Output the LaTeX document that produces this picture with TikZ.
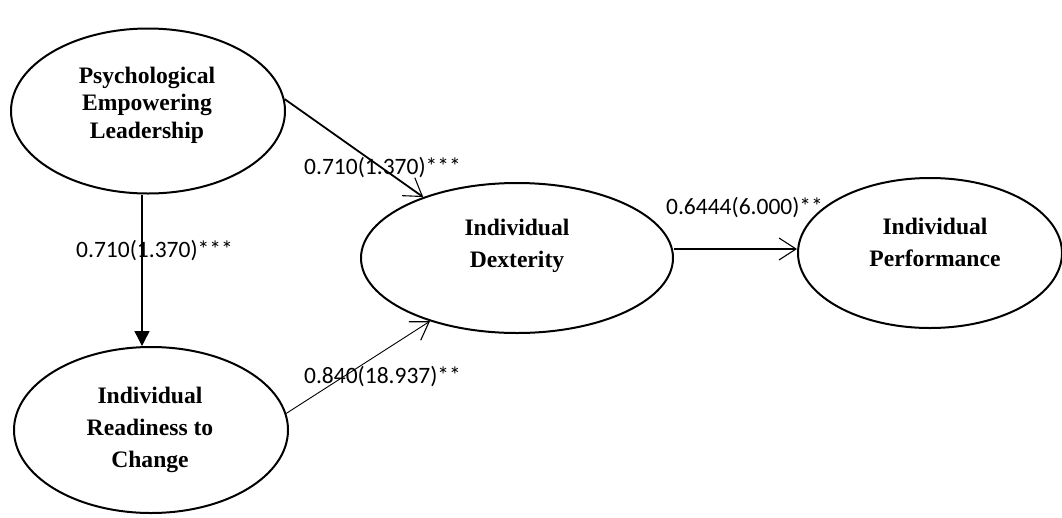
\documentclass[tikz,border=0pt]{standalone}
\usepackage{fontspec}
\setmainfont{Liberation Serif}
\newfontfamily\labfont{Carlito}
\usetikzlibrary{shapes.geometric,arrows.meta}
\begin{document}
\begin{tikzpicture}[x=1pt,y=-1pt,
  construct/.style={draw,ellipse,line width=2pt,inner sep=0pt},
  ctext/.style={align=center,font=\fontsize{23.6}{32}\selectfont\bfseries,inner sep=0pt},
  coef/.style={font=\fontsize{23.5}{28}\labfont,inner sep=0pt},
  openarrow/.style={-{Straight Barb[length=17pt,width=22pt,line width=1.1pt]}},
  filledarrow/.style={-{Triangle[length=15pt,width=15pt]}}
]
\useasboundingbox (0,0) rectangle (1062,517);
% constructs
\node[construct,minimum width=274pt,minimum height=165pt] (pel) at (148,111) {};
\node[ctext,font=\fontsize{23.6}{27.5}\selectfont\bfseries] (pelt) at (147,105) {Psychological\\Empowering\\Leadership};
\node[construct,minimum width=274pt,minimum height=166pt] (irc) at (151,430) {};
\node[ctext] (irct) at (150,430) {Individual\\Readiness to\\Change};
\node[construct,minimum width=312pt,minimum height=150pt] (id) at (517,258) {};
\node[ctext] (idt) at (517,246) {Individual\\Dexterity};
\node[construct,minimum width=264pt,minimum height=150pt] (ip) at (930,253) {};
\node[ctext] (ipt) at (935,242) {Individual\\Performance};
% paths
\draw[openarrow,line width=1.8pt] (pel.5) -- (id.147);
\draw[filledarrow,line width=1.4pt] ([xshift=-6pt]pel.south) -- ([xshift=-6pt]pel.south |- irc.north);
\draw[openarrow,line width=0.9pt] (irc.7) -- (id.216);
\draw[openarrow,line width=1.1pt] ([yshift=9pt]id.east) -- ([yshift=9pt]id.east -| ip.west);
% coefficients
\node[coef] (c1) at (382.5,168) {0.710(1.370)***};
\node[coef] (c2) at (154.5,251) {0.710(1.370)***};
\node[coef] (c3) at (382.5,377) {0.840(18.937)**};
\node[coef] (c4) at (744.5,208) {0.6444(6.000)**};
\end{tikzpicture}
\end{document}
